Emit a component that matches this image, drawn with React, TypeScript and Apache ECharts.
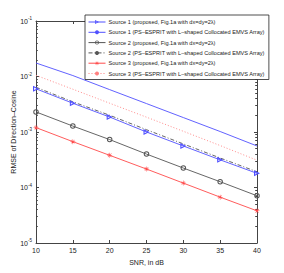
import React, { useEffect, useRef } from "react";
import * as echarts from "echarts";

const snr = [10, 15, 20, 25, 30, 35, 40];
const s1Proposed = [6.0e-3, 3.3e-3, 1.86e-3, 1.0e-3, 5.6e-4, 3.15e-4, 1.8e-4];
const s1Esprit = [1.75e-2, 1.04e-2, 5.8e-3, 3.25e-3, 1.82e-3, 1.02e-3, 5.6e-4];
const s2Proposed = [2.3e-3, 1.28e-3, 7.3e-4, 4.0e-4, 2.24e-4, 1.27e-4, 7.1e-5];
const s2Esprit = [6.4e-3, 3.5e-3, 2.0e-3, 1.1e-3, 6.1e-4, 3.4e-4, 1.92e-4];
const s3Proposed = [1.2e-3, 6.7e-4, 3.8e-4, 2.15e-4, 1.2e-4, 6.7e-5, 3.8e-5];
const s3Esprit = [1.05e-2, 5.9e-3, 3.3e-3, 1.85e-3, 1.03e-3, 5.7e-4, 3.1e-4];
const seriesNames = [
  "Source 1 (proposed, Fig.1a with dx=dy=2λ)",
  "Source 1 (PS–ESPRIT with L–shaped Collocated EMVS Array)",
  "Source 2 (proposed, Fig.1a with dx=dy=2λ)",
  "Source 2 (PS–ESPRIT with L–shaped Collocated EMVS Array)",
  "Source 3 (proposed, Fig.1a with dx=dy=2λ)",
  "Source 3 (PS–ESPRIT with L–shaped Collocated EMVS Array)",
];
const yMajor = [1e-5, 1e-4, 1e-3, 1e-2, 1e-1];

const ASTERISK =
  "path://M4.5,0h1v10h-1z M0,4.5h10v1h-10z M1.1,1.8l0.7,-0.7l7.1,7.1l-0.7,0.7z M8.2,1.1l0.7,0.7l-7.1,7.1l-0.7,-0.7z";
const HOLLOW_TRI = "path://M0,0L10,5L0,10Z M1.8,3L1.8,7L6,5Z";
const HOLLOW_CIRCLE =
  "path://M5,0A5,5 0 1,1 5,10A5,5 0 1,1 5,0Z M5,1.8A3.2,3.2 0 1,0 5,8.2A3.2,3.2 0 1,0 5,1.8Z";

const BLUE = "#5050ff";
const RED = "#ff4a4a";
const BLACK = "#555555";

export default function App() {
  const ref = useRef<HTMLDivElement>(null);
  useEffect(() => {
    if (!ref.current) return;
    const chart = echarts.init(ref.current, undefined, { renderer: "svg" });
    const minor: number[] = [];
    for (let e = -5; e < -1; e++) {
      for (let k = 2; k <= 9; k++) minor.push(k * Math.pow(10, e));
    }
    const pair = (arr: number[]) => snr.map((x, i) => [x, arr[i]]);
    const axisColor = "#444";
    const yBase = {
      type: "log" as const,
      logBase: 10,
      min: 1e-5,
      max: 1e-1,
    };
    chart.setOption({
      animation: false,
      backgroundColor: "#fff",
      grid: { left: 36, right: 27, top: 21, bottom: 30, outerBoundsMode: "none" },
      legend: {
        left: 85,
        top: 15,
        orient: "vertical",
        itemWidth: 17,
        itemHeight: 5,
        itemGap: 4.3,
        padding: [4, 4, 3, 3],
        borderColor: "#222",
        borderWidth: 0.8,
        borderRadius: 0,
        backgroundColor: "#fff",
        lineStyle: { width: 1 },
        textStyle: { fontSize: 5.6, color: "#222", fontFamily: "Liberation Sans", padding: [0, 0, 0, -2] },
        data: seriesNames,
      },
      xAxis: [
        {
          type: "value",
          min: 10,
          max: 40,
          interval: 5,
          name: "SNR, in dB",
          nameLocation: "middle",
          nameGap: 15,
          nameTextStyle: { fontSize: 7, color: "#222", fontFamily: "Liberation Sans" },
          axisLine: { lineStyle: { color: axisColor, width: 1 } },
          axisTick: { inside: true, length: 3, lineStyle: { color: axisColor } },
          axisLabel: { fontSize: 7, color: "#222", margin: 4, fontFamily: "Liberation Sans" },
          splitLine: { show: false },
        },
        {
          type: "value",
          min: 10,
          max: 40,
          interval: 5,
          position: "top",
          axisLine: { lineStyle: { color: axisColor, width: 1 } },
          axisTick: { inside: true, length: 3, lineStyle: { color: axisColor } },
          axisLabel: { show: false },
          splitLine: { show: false },
        },
      ],
      yAxis: [
        {
          ...yBase,
          position: "left",
          name: "RMSE of Direction–Cosine",
          nameLocation: "middle",
          nameGap: 19,
          nameMoveOverlap: false,
          nameTextStyle: { fontSize: 7, color: "#222", fontFamily: "Liberation Sans" },
          axisLine: { show: true, lineStyle: { color: axisColor, width: 1 } },
          axisTick: { inside: true, length: 3, lineStyle: { color: axisColor }, customValues: yMajor },
          axisLabel: {
            margin: 4,
            customValues: yMajor,
            formatter: (v: number) => `{b|10}{s|${Math.round(Math.log10(v))}}`,
            rich: {
              b: { fontSize: 7, color: "#222", fontFamily: "Liberation Sans" },
              s: { fontSize: 4.5, color: "#222", verticalAlign: "top", padding: [0, 0, 5, 0], fontFamily: "Liberation Sans" },
            },
          },
          splitLine: { show: false },
        },
        {
          ...yBase,
          position: "right",
          axisLine: { show: true, lineStyle: { color: axisColor, width: 1 } },
          axisTick: { inside: true, length: 3, lineStyle: { color: axisColor }, customValues: yMajor },
          axisLabel: { show: false },
          splitLine: { show: false },
        },
        {
          ...yBase,
          position: "left",
          axisLine: { show: false },
          axisTick: { inside: true, length: 1.8, lineStyle: { color: axisColor }, customValues: minor },
          axisLabel: { show: false },
          splitLine: { show: false },
        },
        {
          ...yBase,
          position: "right",
          axisLine: { show: false },
          axisTick: { inside: true, length: 1.8, lineStyle: { color: axisColor }, customValues: minor },
          axisLabel: { show: false },
          splitLine: { show: false },
        },
      ],
      series: [
        {
          name: seriesNames[0],
          type: "line",
          data: pair(s1Proposed),
          symbol: HOLLOW_TRI,
          symbolSize: 6,
          itemStyle: { color: BLUE },
          lineStyle: { color: BLUE, width: 0.9 },
        },
        {
          name: seriesNames[1],
          type: "line",
          data: pair(s1Esprit),
          symbol: "none",
          itemStyle: { color: BLUE },
          lineStyle: { color: BLUE, width: 0.9 },
        },
        {
          name: seriesNames[2],
          type: "line",
          data: pair(s2Proposed),
          symbol: HOLLOW_CIRCLE,
          symbolSize: 5.5,
          itemStyle: { color: BLACK },
          lineStyle: { color: BLACK, width: 0.9 },
        },
        {
          name: seriesNames[3],
          type: "line",
          data: pair(s2Esprit),
          symbol: "none",
          itemStyle: { color: BLACK },
          lineStyle: { color: BLACK, width: 0.9, type: [4, 2, 1, 2] },
        },
        {
          name: seriesNames[4],
          type: "line",
          data: pair(s3Proposed),
          symbol: ASTERISK,
          symbolSize: 5,
          itemStyle: { color: RED },
          lineStyle: { color: RED, width: 0.9 },
        },
        {
          name: seriesNames[5],
          type: "line",
          data: pair(s3Esprit),
          symbol: "none",
          itemStyle: { color: "#ff8080" },
          lineStyle: { color: "#ff8080", width: 0.9, type: [1, 2] },
        },
      ],
    });
    return () => chart.dispose();
  }, []);
  return <div ref={ref} style={{ width: 284, height: 273, marginLeft: -8, marginTop: -8 }} />;
}
